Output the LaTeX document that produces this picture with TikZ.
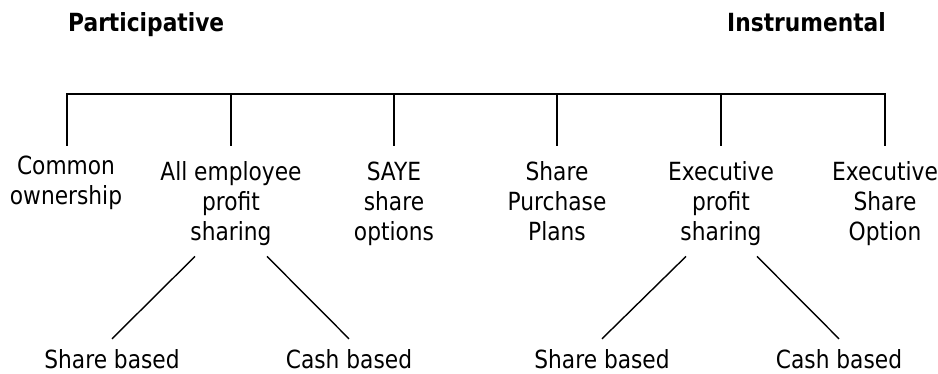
\documentclass[tikz,border=0pt]{standalone}
\usepackage{fontspec}
\setmainfont{DejaVu Sans}[FakeStretch=0.87]
\begin{document}
\begin{tikzpicture}[x=1pt,y=-1pt,
  lbl/.style={font=\fontsize{25}{30}\selectfont, align=center, inner sep=0pt, anchor=base},
  ttl/.style={font=\fontsize{25}{30}\selectfont\bfseries, inner sep=0pt},
  ln/.style={line width=1.6pt, line join=miter},
  dg/.style={line width=1.4pt}]
\path[use as bounding box] (0,0) rectangle (938,374);
% titles
\node[ttl, anchor=base west] (tp) at (68,32) {Participative};
\node[ttl, anchor=base east] (ti) at (886,32) {Instrumental};
% bar coordinates
\coordinate (b1) at (67,94);  \coordinate (v1) at (67,146);
\coordinate (b2) at (231,94); \coordinate (v2) at (231,146);
\coordinate (b3) at (394,94); \coordinate (v3) at (394,146);
\coordinate (b4) at (557,94); \coordinate (v4) at (557,146);
\coordinate (b5) at (721,94); \coordinate (v5) at (721,146);
\coordinate (b6) at (885,94); \coordinate (v6) at (885,146);
% categories (anchor base = baseline of the last line)
\node[lbl] (c1) at (66,205) {Common\\ownership};
\node[lbl] (c2) at (231,241) {All employee\\profit\\sharing};
\node[lbl] (c3) at (394,241) {SAYE\\share\\options};
\node[lbl] (c4) at (557,241) {Share\\Purchase\\Plans};
\node[lbl] (c5) at (721,241) {Executive\\profit\\sharing};
\node[lbl] (c6) at (885,241) {Executive\\Share\\Option};
% sub-categories
\node[lbl] (s1) at (112,368) {Share based};
\node[lbl] (s2) at (349,368) {Cash based};
\node[lbl] (s3) at (602,368) {Share based};
\node[lbl] (s4) at (839,368) {Cash based};
% tree lines
\draw[ln] (v1) -- (b1) -- (b6) -- (v6);
\draw[ln] (b2) -- (v2);
\draw[ln] (b3) -- (v3);
\draw[ln] (b4) -- (v4);
\draw[ln] (b5) -- (v5);
% diagonals
\draw[dg] ([xshift=-36pt,yshift=-10pt]c2.south) -- ([yshift=10pt]s1.north);
\draw[dg] ([xshift=36pt,yshift=-10pt]c2.south) -- ([yshift=10pt]s2.north);
\draw[dg] ([xshift=-35pt,yshift=-10pt]c5.south) -- ([yshift=10pt]s3.north);
\draw[dg] ([xshift=36pt,yshift=-10pt]c5.south) -- ([yshift=10pt]s4.north);
\end{tikzpicture}
\end{document}
